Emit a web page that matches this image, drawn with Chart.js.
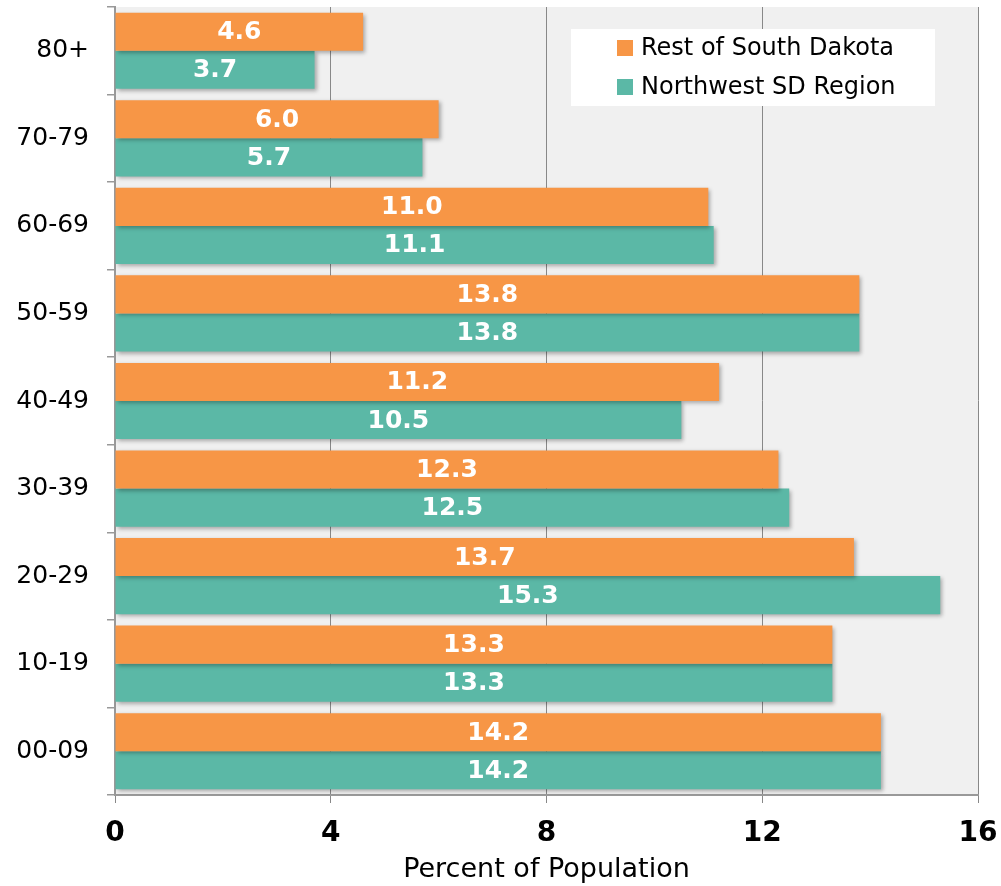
<!DOCTYPE html>
<html>
<head>
<meta charset="utf-8">
<script src="https://cdn.jsdelivr.net/npm/chart.js@4.4.0/dist/chart.umd.min.js"></script>
<style>
  body { margin: 0; background: #fff; }
</style>
</head>
<body>
<canvas id="age-chart" width="1001" height="886"></canvas>
<script>
// data
const age_groups = ['80+', '70-79', '60-69', '50-59', '40-49', '30-39', '20-29', '10-19', '00-09'];
const rest_sd = [4.6, 6.0, 11.0, 13.8, 11.2, 12.3, 13.7, 13.3, 14.2];
const nw_sd = [3.7, 5.7, 11.1, 13.8, 10.5, 12.5, 15.3, 13.3, 14.2];
const series_names = ['Rest of South Dakota', 'Northwest SD Region'];
const series_colors = ['#F79646', '#5BB8A6'];
const x_ticks = [0, 4, 8, 12, 16];
const x_title = 'Percent of Population';

Chart.defaults.font.family = "'DejaVu Sans', sans-serif";
Chart.defaults.color = '#000';

// grey plot area behind the grid
const plot_bg = {
    id: 'plot_bg',
    beforeDraw(chart) {
        let a = chart.chartArea;
        let ctx = chart.ctx;
        ctx.save();
        ctx.fillStyle = '#f0f0f0';
        ctx.fillRect(a.left, a.top, a.right - a.left, a.bottom - a.top);
        ctx.restore();
    },
};

// soft shadow under bars + white value labels in the middle of each bar
const bar_labels = {
    id: 'bar_labels',
    beforeDatasetsDraw(chart) {
        let ctx = chart.ctx;
        ctx.save();
        ctx.shadowColor = 'rgba(0,0,0,0.3)';
        ctx.shadowOffsetX = 2;
        ctx.shadowOffsetY = 2;
        ctx.shadowBlur = 4;
    },
    afterDatasetsDraw(chart) {
        let ctx = chart.ctx;
        ctx.restore();
        ctx.save();
        ctx.fillStyle = '#fff';
        ctx.font = "bold 25px 'DejaVu Sans'";
        ctx.textAlign = 'center';
        ctx.textBaseline = 'middle';
        chart.data.datasets.forEach((ds, i) => {
            chart.getDatasetMeta(i).data.forEach((bar, j) => {
                let p = bar.getProps(['x', 'y', 'base'], true);
                ctx.fillText(ds.data[j].toFixed(1), (p.x + p.base) / 2, p.y + 1);
            });
        });
        ctx.restore();
    },
};

// legend box sitting inside the plot, top right
const box_legend = {
    id: 'box_legend',
    afterDraw(chart) {
        let ctx = chart.ctx;
        ctx.save();
        ctx.fillStyle = '#fff';
        ctx.fillRect(571, 29, 364, 77);
        ctx.font = "24px 'DejaVu Sans'";
        ctx.textBaseline = 'middle';
        series_names.forEach((name, i) => {
            let y = 48 + i * 39;
            ctx.fillStyle = series_colors[i];
            ctx.fillRect(617, y - 8, 16, 16);
            ctx.fillStyle = '#000';
            ctx.fillText(name, 641, y + 1);
        });
        ctx.restore();
    },
};

const ctx = document.getElementById('age-chart');
const chart = new Chart(ctx, {
    type: 'bar',
    data: {
        labels: age_groups,
        datasets: [
            {
                label: series_names[0],
                data: rest_sd,
                backgroundColor: series_colors[0],
                barPercentage: 1,
                categoryPercentage: 0.87,
            },
            {
                label: series_names[1],
                data: nw_sd,
                backgroundColor: series_colors[1],
                barPercentage: 1,
                categoryPercentage: 0.87,
            },
        ],
    },
    options: {
        indexAxis: 'y',
        responsive: false,
        animation: false,
        layout: { padding: { top: 7, right: 23, bottom: 0, left: 0 } },
        scales: {
            x: {
                min: x_ticks[0],
                max: x_ticks[x_ticks.length - 1],
                afterFit(scale) {
                    scale.height = 91;
                    scale.paddingLeft = 0;
                    scale.paddingRight = 0;
                },
                ticks: {
                    stepSize: x_ticks[1] - x_ticks[0],
                    padding: 14,
                    font: { size: 28, weight: 'bold' },
                },
                grid: { color: '#888', lineWidth: 1, tickLength: 8 },
                border: { color: '#999', width: 2 },
                title: {
                    display: true,
                    text: x_title,
                    font: { size: 27 },
                    padding: { top: 0, bottom: 0 },
                },
            },
            y: {
                afterFit(scale) {
                    scale.width = 115;
                    scale.paddingTop = 0;
                    scale.paddingBottom = 0;
                },
                ticks: { padding: 18, font: { size: 25 } },
                grid: { drawOnChartArea: false, color: '#999', lineWidth: 1.5, tickLength: 8 },
                border: { color: '#999', width: 2 },
            },
        },
        plugins: {
            legend: { display: false },
            tooltip: { enabled: false },
        },
    },
    plugins: [plot_bg, bar_labels, box_legend],
});
</script>
</body>
</html>
